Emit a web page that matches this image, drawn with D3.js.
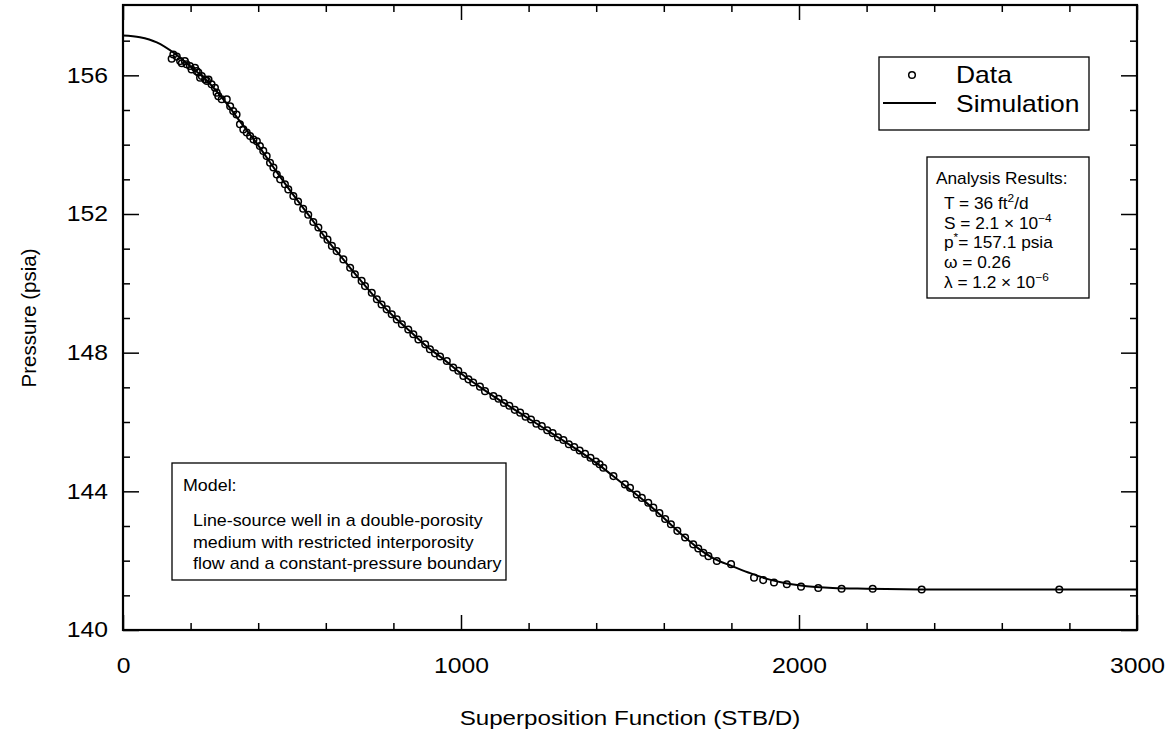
<!DOCTYPE html>
<html>
<head>
<meta charset="utf-8">
<script src="https://cdn.jsdelivr.net/npm/d3@7"></script>
<style>
  html, body { margin: 0; padding: 0; background: #fff; }
  svg { display: block; font-family: "Liberation Sans", Arial, Helvetica, sans-serif; }
</style>
</head>
<body>
<svg id="chart" width="1175" height="736"></svg>
<script>
// ---------------- data ----------------
const xMajorTicks = [0, 1000, 2000, 3000];
const xMinorTicks = [200, 400, 600, 800, 1200, 1400, 1600, 1800, 2200, 2400, 2600, 2800];
const yMajorTicks = [140, 144, 148, 152, 156];
const yMinorTicks = [141, 142, 143, 145, 146, 147, 149, 150, 151, 153, 154, 155, 157];

// observed data (superposition function, pressure)
const dataX = [
  144, 149, 159, 169, 174, 183, 188, 198, 203, 213, 218, 223, 228, 233, 243, 248, 253, 262, 272, 277,
  282, 292, 307, 317, 326, 336, 346, 356, 366, 376, 386, 396, 405, 415, 425, 435, 445, 455, 465, 479,
  489, 504, 518, 533, 548, 563, 578, 593, 605,
  618, 632, 652, 672, 686, 706, 716, 736, 751, 765, 780, 795, 810, 825, 844, 859, 874, 894, 908, 923,
  938, 958, 977, 992, 1007, 1022, 1036, 1056, 1071, 1096,
  1111, 1127, 1143, 1159, 1175, 1191, 1207, 1223, 1239, 1255, 1271, 1287, 1303, 1319, 1335, 1351,
  1367, 1383, 1399, 1410,
  1421, 1451, 1485, 1500, 1520, 1535, 1554, 1569, 1587, 1604, 1621, 1640, 1663, 1687, 1702, 1717,
  1732, 1757, 1799, 1867, 1894, 1926, 1964, 2006, 2057, 2126, 2218, 2363, 2770
];
const dataP = [
  156.48, 156.60, 156.54, 156.41, 156.35, 156.41, 156.32, 156.27, 156.17, 156.22, 156.12, 156.08, 155.93, 155.98, 155.88, 155.84, 155.88, 155.74, 155.64, 155.50,
  155.40, 155.31, 155.31, 155.11, 154.97, 154.87, 154.59, 154.44, 154.35, 154.25, 154.15, 154.10, 153.96, 153.82, 153.67, 153.48, 153.34, 153.14, 153.00, 152.86,
  152.71, 152.52, 152.36, 152.15, 151.98, 151.77, 151.61, 151.40, 151.26,
  151.08, 150.93, 150.69, 150.45, 150.26, 150.07, 149.92, 149.73, 149.54, 149.39, 149.25, 149.11, 148.96, 148.82, 148.67, 148.53, 148.38, 148.24, 148.10, 147.98,
  147.89, 147.76, 147.57, 147.48, 147.33, 147.23, 147.14, 147.02, 146.89, 146.75,
  146.67, 146.55, 146.47, 146.35, 146.27, 146.15, 146.07, 145.95, 145.88, 145.76, 145.68, 145.56, 145.48, 145.36, 145.28, 145.18,
  145.08, 144.97, 144.86, 144.78,
  144.68, 144.44, 144.20, 144.10, 143.91, 143.81, 143.67, 143.53, 143.37, 143.20, 143.05, 142.86, 142.67, 142.47, 142.35, 142.23,
  142.13, 141.99, 141.90, 141.51, 141.44, 141.37, 141.32, 141.25, 141.21, 141.19, 141.19, 141.17, 141.17
];

// simulated curve
const simX = [0, 50, 100, 150, 200, 250, 300, 350, 400, 450, 500, 550, 600, 650, 700, 750, 800, 850, 900, 950,
  1000, 1050, 1100, 1150, 1200, 1250, 1300, 1350, 1400, 1450, 1500, 1550, 1600, 1650, 1700, 1750, 1800, 1850,
  1900, 1950, 2000, 2050, 2100, 2200, 2400, 2600, 2800, 3000];
const simP = [157.15, 157.10, 156.95, 156.65, 156.25, 155.83, 155.27, 154.62, 153.98, 153.28, 152.60, 151.96, 151.30,
  150.71, 150.12, 149.55, 149.05, 148.61, 148.17, 147.80, 147.40, 147.05, 146.72, 146.41, 146.10, 145.79, 145.48,
  145.16, 144.82, 144.44, 144.05, 143.66, 143.23, 142.78, 142.37, 142.05, 141.85, 141.66, 141.49, 141.37, 141.29,
  141.24, 141.21, 141.19, 141.17, 141.17, 141.17, 141.17];

const legendLabels = ["Data", "Simulation"];
const xTitle = "Superposition Function (STB/D)";
const yTitle = "Pressure (psia)";

// ---------------- layout ----------------
const svg = d3.select("#chart");
const L = 123, R = 1137, T = 5, B = 630;
const x = d3.scaleLinear().domain([0, 3000]).range([L, R]);
const y = d3.scaleLinear().domain([140, 158]).range([B, 6]);
const SX = 1.15; // horizontal stretch of the scanned lettering

function stext(g, px, py, str, size, anchor, sx) {
  return g.append("text")
    .attr("transform", `translate(${px},${py}) scale(${sx || SX},1)`)
    .attr("font-size", size)
    .attr("text-anchor", anchor || "start")
    .attr("fill", "#000")
    .text(str);
}

// ---------------- axes (inside ticks) ----------------
function styleAxis(g) {
  g.select(".domain").remove();
  g.selectAll(".tick line").attr("stroke", "#000").attr("stroke-width", 1.5);
}

const gx = svg.append("g").attr("transform", `translate(0,${B})`)
  .call(d3.axisBottom(x).tickValues(xMajorTicks).tickSize(-15).tickPadding(28).tickFormat(d3.format("d")));
styleAxis(gx);
gx.selectAll(".tick text").attr("font-size", 21.5).attr("font-family", "Liberation Sans, Arial, sans-serif")
  .attr("fill", "#000").attr("transform", `scale(${SX},1)`);

const gxm = svg.append("g").attr("transform", `translate(0,${B})`)
  .call(d3.axisBottom(x).tickValues(xMinorTicks).tickSize(-7).tickFormat(""));
styleAxis(gxm);

const gxt = svg.append("g").attr("transform", `translate(0,${T})`)
  .call(d3.axisTop(x).tickValues(xMajorTicks).tickSize(-15).tickFormat(""));
styleAxis(gxt);
const gxtm = svg.append("g").attr("transform", `translate(0,${T})`)
  .call(d3.axisTop(x).tickValues(xMinorTicks).tickSize(-7).tickFormat(""));
styleAxis(gxtm);

const gy = svg.append("g").attr("transform", `translate(${L},0)`)
  .call(d3.axisLeft(y).tickValues(yMajorTicks).tickSize(-16).tickPadding(13).tickFormat(d3.format("d")));
styleAxis(gy);
gy.selectAll(".tick text").attr("font-size", 21.5).attr("font-family", "Liberation Sans, Arial, sans-serif")
  .attr("fill", "#000").attr("transform", `scale(${SX},1)`);

const gym = svg.append("g").attr("transform", `translate(${L},0)`)
  .call(d3.axisLeft(y).tickValues(yMinorTicks).tickSize(-7).tickFormat(""));
styleAxis(gym);

const gyr = svg.append("g").attr("transform", `translate(${R},0)`)
  .call(d3.axisRight(y).tickValues(yMajorTicks).tickSize(-16).tickFormat(""));
styleAxis(gyr);
const gyrm = svg.append("g").attr("transform", `translate(${R},0)`)
  .call(d3.axisRight(y).tickValues(yMinorTicks).tickSize(-7).tickFormat(""));
styleAxis(gyrm);

// frame
svg.append("rect").attr("x", L).attr("y", T).attr("width", R - L).attr("height", B - T)
  .attr("fill", "none").attr("stroke", "#000").attr("stroke-width", 2.2);

// axis titles
stext(svg, (L + R) / 2, 725, xTitle, 21, "middle");
svg.append("text")
  .attr("transform", `translate(36,318) rotate(-90)`)
  .attr("font-size", 20.5).attr("text-anchor", "middle").attr("fill", "#000")
  .text(yTitle);

// ---------------- marks ----------------
const sim = simX.map((d, i) => [d, simP[i]]);
const obs = dataX.map((d, i) => [d, dataP[i]]);

svg.append("path")
  .datum(sim)
  .attr("fill", "none").attr("stroke", "#000").attr("stroke-width", 2)
  .attr("d", d3.line().x(d => x(d[0])).y(d => y(d[1])).curve(d3.curveMonotoneX));

svg.append("g").selectAll("circle").data(obs).join("circle")
  .attr("cx", d => x(d[0])).attr("cy", d => y(d[1])).attr("r", 3.3)
  .attr("fill", "none").attr("stroke", "#000").attr("stroke-width", 1.5);

// ---------------- legend ----------------
const lg = svg.append("g");
lg.append("rect").attr("x", 879).attr("y", 57).attr("width", 210).attr("height", 73)
  .attr("fill", "#fff").attr("stroke", "#000").attr("stroke-width", 1.3);
lg.append("circle").attr("cx", 912).attr("cy", 75).attr("r", 3.3)
  .attr("fill", "none").attr("stroke", "#000").attr("stroke-width", 1.5);
lg.append("line").attr("x1", 883).attr("x2", 936).attr("y1", 103).attr("y2", 103)
  .attr("stroke", "#000").attr("stroke-width", 2);
stext(lg, 956, 83, legendLabels[0], 23, "start");
stext(lg, 956, 112, legendLabels[1], 23, "start");

// ---------------- analysis results box ----------------
const ab = svg.append("g");
ab.append("rect").attr("x", 927).attr("y", 157).attr("width", 162).attr("height", 141)
  .attr("fill", "#fff").attr("stroke", "#000").attr("stroke-width", 1.3);
const AS = 1.08, AF = 16;
stext(ab, 936, 184, "Analysis Results:", AF, "start", AS);

function supLine(g, px, py, parts) {
  const t = g.append("text")
    .attr("transform", `translate(${px},${py}) scale(${AS},1)`)
    .attr("font-size", AF).attr("fill", "#000");
  let shifted = false;
  parts.forEach(p => {
    const ts = t.append("tspan").text(p.t);
    if (p.sup && !shifted) { ts.attr("dy", -7).attr("font-size", 11); shifted = true; }
    else if (p.sup) { ts.attr("font-size", 11); }
    else if (shifted) { ts.attr("dy", 7); shifted = false; }
  });
  return t;
}
supLine(ab, 944, 209, [{t: "T = 36 ft"}, {t: "2", sup: true}, {t: "/d"}]);
supLine(ab, 944, 229, [{t: "S = 2.1 \u00d7 10"}, {t: "\u22124", sup: true}]);
supLine(ab, 944, 248, [{t: "p"}, {t: "*", sup: true}, {t: "= 157.1 psia"}]);
supLine(ab, 944, 268, [{t: "\u03c9 = 0.26"}]);
supLine(ab, 944, 288, [{t: "\u03bb = 1.2 \u00d7 10"}, {t: "\u22126", sup: true}]);

// ---------------- model box ----------------
const mb = svg.append("g");
mb.append("rect").attr("x", 172).attr("y", 463).attr("width", 334).attr("height", 117)
  .attr("fill", "#fff").attr("stroke", "#000").attr("stroke-width", 1.3);
const MS = 1.05, MF = 17;
stext(mb, 183, 491, "Model:", MF, "start", MS);
stext(mb, 193, 526, "Line-source well in a double-porosity", MF, "start", MS);
stext(mb, 193, 548, "medium with restricted interporosity", MF, "start", MS);
stext(mb, 193, 569, "flow and a constant-pressure boundary", MF, "start", MS);
</script>
</body>
</html>
